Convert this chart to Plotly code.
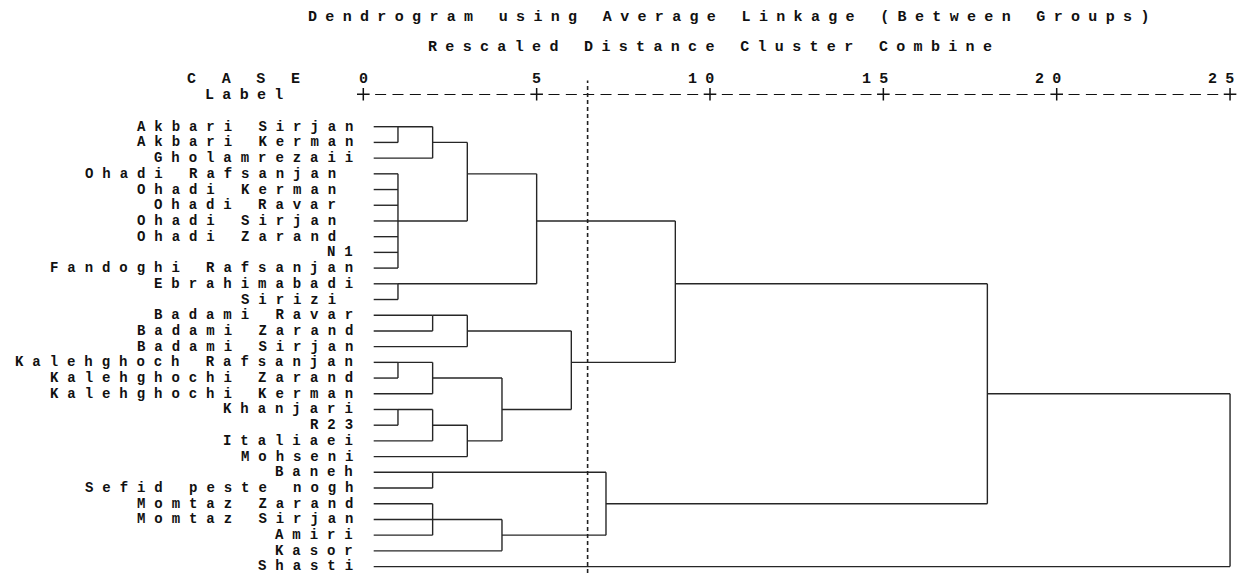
import plotly.graph_objects as go

# ---- data -------------------------------------------------------------
LABELS = [
    "Akbari Sirjan", "Akbari Kerman", "Gholamrezaii", "Ohadi Rafsanjan ",
    "Ohadi Kerman ", "Ohadi Ravar ", "Ohadi Sirjan ", "Ohadi Zarand ", "N1",
    "Fandoghi Rafsanjan", "Ebrahimabadi", "Sirizi ", "Badami Ravar",
    "Badami Zarand", "Badami Sirjan", "Kalehghoch Rafsanjan",
    "Kalehghochi Zarand", "Kalehghochi Kerman", "Khanjari", "R23",
    "Italiaei", "Mohseni", "Baneh", "Sefid peste nogh", "Momtaz Zarand",
    "Momtaz Sirjan", "Amiri", "Kasor", "Shasti",
]

# Agglomeration steps: members (leaf index < 29, earlier merge = 29 + step)
MERGE_MEMBERS = [
    [0, 1], [29, 2], [3, 4, 5, 6, 7, 8, 9], [30, 31], [10, 11], [32, 33],
    [12, 13], [35, 14], [15, 16], [37, 17], [18, 19], [39, 20], [40, 21],
    [38, 41], [36, 42], [34, 43], [22, 23], [24, 25, 26], [46, 27],
    [45, 47], [44, 48], [49, 28],
]
# Rescaled distance at which each step combines
MERGE_DIST = [1, 2, 1, 3, 1, 5, 2, 3, 1, 2, 1, 2, 3, 4, 6, 9, 2, 2, 4, 7, 18, 25]

TICKS = [0, 5, 10, 15, 20, 25]
CUT_DISTANCE = 6.47
LEAF_START = 0.3

TITLE = "Dendrogram using Average Linkage (Between Groups)"
SUBTITLE = "Rescaled Distance Cluster Combine"

# ---- page geometry (pixels) -------------------------------------------
FIG_W, FIG_H = 1243, 573
X0_PX, UNIT_PX = 363.3, 34.67      # where distance 0 sits, px per unit
ROW0_PX, ROW_PX = 126.7, 15.71     # first leaf row, px per row
MARGIN_L, MARGIN_T = 353, 94
PLOT_W, PLOT_H = FIG_W - MARGIN_L, FIG_H - MARGIN_T

HEAD_SIZE = 15                     # titles and scale numbers
LABEL_SIZE = 14                    # case labels
PITCH = 17.34                      # character cell width
INK = "#111111"
LINE = "#262626"


def px_x(px):
    return (px - MARGIN_L) / PLOT_W


def px_y(py):
    return 1 - (py - MARGIN_T) / PLOT_H


def spacing(size):
    return PITCH - 0.6 * size


def spaced(txt, size):
    txt = txt.replace(" ", "\u00a0")
    return f'<span style="letter-spacing:{spacing(size):.2f}px">{txt}</span>'


def mono(size):
    return dict(family="Liberation Mono", size=size, color=INK, weight="bold")


# ---- tree segments ----------------------------------------------------
n = len(LABELS)
rep = list(range(n))
height = [LEAF_START] * n
xs, ys = [], []
for members, d in zip(MERGE_MEMBERS, MERGE_DIST):
    rows = [rep[m] for m in members]
    for m in members:
        xs += [height[m], d, None]
        ys += [rep[m], rep[m], None]
    xs += [d, d, None]
    ys += [min(rows), max(rows), None]
    rep.append((min(rows) + max(rows)) // 2)
    height.append(d)

fig = go.Figure()
fig.add_trace(go.Scatter(
    x=xs, y=ys, mode="lines",
    line=dict(color=LINE, width=1.4),
    hoverinfo="skip", showlegend=False,
))

# axis row: '+' at each tick, dashes between
axis_row = (MARGIN_T + 0.3 - ROW0_PX) / ROW_PX
fig.add_trace(go.Scatter(
    x=TICKS, y=[axis_row] * len(TICKS), mode="markers",
    marker=dict(symbol="cross-thin", size=9,
                line=dict(color=INK, width=1.5)),
    cliponaxis=False, hoverinfo="skip", showlegend=False,
))
dash_len = 11
for a, b in zip(TICKS[:-1], TICKS[1:]):
    start = a + (PITCH - dash_len / 2) / UNIT_PX
    end = b - (PITCH - dash_len / 2) / UNIT_PX
    fig.add_shape(type="line", xref="x", yref="y",
                  x0=start, x1=end, y0=axis_row, y1=axis_row,
                  line=dict(color=INK, width=1.2,
                            dash=f"{dash_len}px,{PITCH - dash_len:.2f}px"))

# cut-off reference line
fig.add_shape(type="line", xref="x", yref="paper",
              x0=CUT_DISTANCE, x1=CUT_DISTANCE,
              y0=0, y1=px_y(80.5),
              line=dict(color="#202020", width=1.6, dash="4px,3px"))

ann = []


def add_text(txt, cell_left_px, cy_px, size=HEAD_SIZE):
    ann.append(dict(
        text=spaced(txt, size), xref="paper", yref="paper",
        x=px_x(cell_left_px + spacing(size) / 2), y=px_y(cy_px),
        xanchor="left", yanchor="middle", showarrow=False,
        font=mono(size), borderpad=0, borderwidth=0,
    ))


add_text(TITLE, 303.5, 17.2)
add_text(SUBTITLE, 424.0, 47.5)
add_text("C A S E", 183.0, 79.0)
add_text("Label", 200.7, 95.3)

for t in TICKS:
    s = str(t)
    tick_px = X0_PX + t * UNIT_PX
    add_text(s, tick_px - (len(s) - 1) * PITCH - PITCH / 2, 79.5)

label_half = LABEL_SIZE / 2 + 0.5
for i, lab in enumerate(LABELS):
    # keep the last row's text inside the page
    cy = min(ROW0_PX + i * ROW_PX, FIG_H - label_half)
    ann.append(dict(
        text=spaced(lab, LABEL_SIZE), xref="paper", yref="paper",
        x=px_x(357.2 + spacing(LABEL_SIZE) / 2), y=px_y(cy),
        xanchor="right", yanchor="middle", showarrow=False,
        font=mono(LABEL_SIZE), borderpad=0, borderwidth=0,
    ))

fig.update_layout(
    width=FIG_W, height=FIG_H,
    margin=dict(l=MARGIN_L, r=0, t=MARGIN_T, b=0),
    paper_bgcolor="white", plot_bgcolor="white",
    xaxis=dict(range=[(MARGIN_L - X0_PX) / UNIT_PX, (FIG_W - X0_PX) / UNIT_PX],
               visible=False, fixedrange=True),
    yaxis=dict(range=[(FIG_H - ROW0_PX) / ROW_PX, (MARGIN_T - ROW0_PX) / ROW_PX],
               visible=False, fixedrange=True),
    annotations=ann,
    showlegend=False,
)

fig.write_html("out.html", config={"displayModeBar": False})
